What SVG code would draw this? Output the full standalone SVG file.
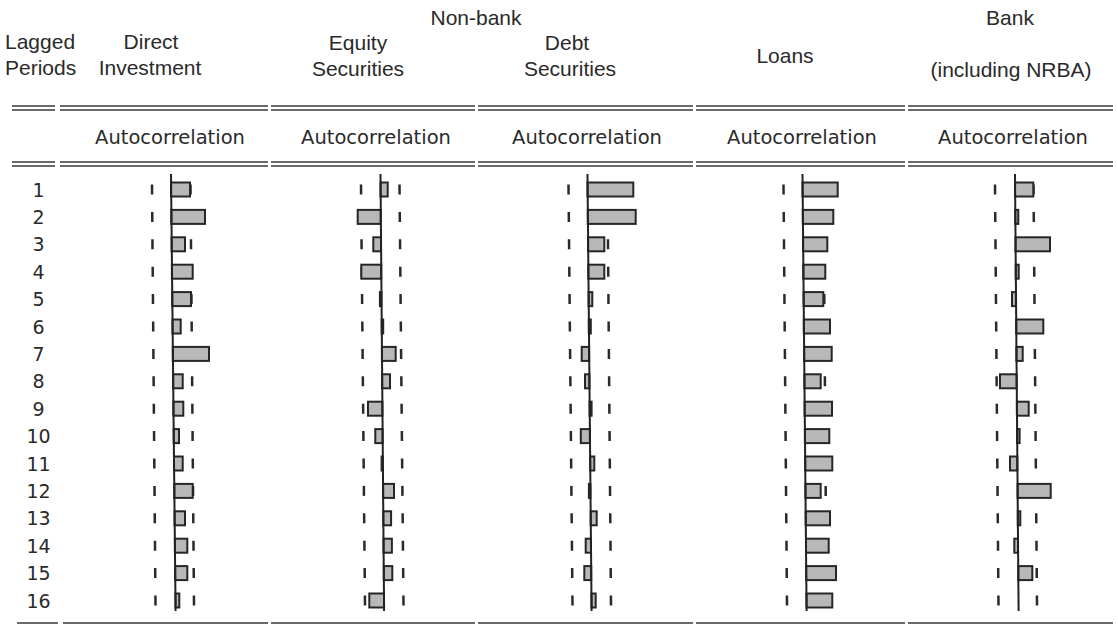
<svg xmlns="http://www.w3.org/2000/svg" width="1118" height="626" viewBox="0 0 1118 626">
<style>
.hd{font-family:"Liberation Sans",Arial,sans-serif;font-size:21px;fill:#2a2a2a}
.ac{font-family:"DejaVu Sans","Liberation Sans",sans-serif;font-size:19.5px;fill:#2a2a2a;text-anchor:middle}
.rn{font-family:"DejaVu Sans","Liberation Sans",sans-serif;font-size:19px;fill:#2a2a2a;text-anchor:middle}
.m{text-anchor:middle}
.rule{stroke:#3a3a3a;stroke-width:1.6;fill:none}
.axis{stroke:#222;stroke-width:2;fill:none}
.dash{stroke:#2a2a2a;stroke-width:2.5;fill:none;stroke-dasharray:10 17.4}
.bar{fill:#b8b8b8;stroke:#262626;stroke-width:2}
</style>

<g id="header">
<text class="hd" x="5" y="49">Lagged</text>
<text class="hd" x="5" y="75">Periods</text>
<text class="hd m" x="151" y="49">Direct</text>
<text class="hd m" x="150" y="75">Investment</text>
<text class="hd m" x="358" y="50">Equity</text>
<text class="hd m" x="358" y="76">Securities</text>
<text class="hd m" x="476" y="25">Non-bank</text>
<text class="hd m" x="567" y="50">Debt</text>
<text class="hd m" x="570" y="76">Securities</text>
<text class="hd m" x="785" y="63">Loans</text>
<text class="hd m" x="1010" y="25">Bank</text>
<text class="hd m" x="1011" y="77">(including NRBA)</text>
<text class="ac" x="170" y="144">Autocorrelation</text>
<text class="ac" x="376" y="144">Autocorrelation</text>
<text class="ac" x="587" y="144">Autocorrelation</text>
<text class="ac" x="802" y="144">Autocorrelation</text>
<text class="ac" x="1013" y="144">Autocorrelation</text>
</g>

<g id="rules">
<path class="rule" d="M12 106H55M60 106H268M271 106H475M478 106H693M696 106H905M908 106H1113"/>
<path class="rule" d="M12 110H55M60 110H268M271 110H475M478 110H693M696 110H905M908 110H1113"/>
<path class="rule" d="M12 162H55M60 162H268M271 162H475M478 162H693M696 162H905M908 162H1113"/>
<path class="rule" d="M12 166H55M60 166H268M271 166H475M478 166H693M696 166H905M908 166H1113"/>
<path class="rule" d="M17 623H58M63 623H268M271 623H475M478 623H693M696 623H905M908 623H1113"/>
</g>

<g id="row-labels">
<text class="rn" x="38.5" y="196.5">1</text>
<text class="rn" x="38.5" y="223.9">2</text>
<text class="rn" x="38.5" y="251.3">3</text>
<text class="rn" x="38.5" y="278.7">4</text>
<text class="rn" x="38.5" y="306.1">5</text>
<text class="rn" x="38.5" y="333.5">6</text>
<text class="rn" x="38.5" y="360.9">7</text>
<text class="rn" x="38.5" y="388.3">8</text>
<text class="rn" x="38.5" y="415.7">9</text>
<text class="rn" x="38.5" y="443.1">10</text>
<text class="rn" x="38.5" y="470.5">11</text>
<text class="rn" x="38.5" y="497.9">12</text>
<text class="rn" x="38.5" y="525.3">13</text>
<text class="rn" x="38.5" y="552.7">14</text>
<text class="rn" x="38.5" y="580.1">15</text>
<text class="rn" x="38.5" y="607.5">16</text>
</g>

<g id="direct-investment">
<path class="dash" d="M152 184.5L155.5 605.5"/>
<path class="dash" d="M190.5 184.5L194 605.5"/>
<rect class="bar" x="171" y="182.5" width="19" height="14"/>
<rect class="bar" x="171.3" y="209.9" width="33.7" height="14"/>
<rect class="bar" x="171.6" y="237.3" width="13.4" height="14"/>
<rect class="bar" x="171.9" y="264.7" width="20.8" height="14"/>
<rect class="bar" x="172.2" y="292.1" width="18.8" height="14"/>
<rect class="bar" x="172.5" y="319.5" width="8.2" height="14"/>
<rect class="bar" x="172.8" y="346.9" width="36.2" height="14"/>
<rect class="bar" x="173.1" y="374.3" width="9.6" height="14"/>
<rect class="bar" x="173.4" y="401.7" width="9.9" height="14"/>
<rect class="bar" x="173.7" y="429.1" width="5.3" height="14"/>
<rect class="bar" x="174" y="456.5" width="8.7" height="14"/>
<rect class="bar" x="174.3" y="483.9" width="18.4" height="14"/>
<rect class="bar" x="174.6" y="511.3" width="10.4" height="14"/>
<rect class="bar" x="174.9" y="538.7" width="12.4" height="14"/>
<rect class="bar" x="175.2" y="566.1" width="12.1" height="14"/>
<rect class="bar" x="175.5" y="593.5" width="3.8" height="14"/>
<path class="axis" d="M171 174L175.6 611"/>
</g>

<g id="equity-securities">
<path class="dash" d="M361 184.5L365 605.5"/>
<path class="dash" d="M399.5 184.5L403.5 605.5"/>
<rect class="bar" x="380.5" y="182.5" width="7.2" height="14"/>
<rect class="bar" x="357.7" y="209.9" width="23" height="14"/>
<rect class="bar" x="373.3" y="237.3" width="7.7" height="14"/>
<rect class="bar" x="361.3" y="264.7" width="19.9" height="14"/>
<rect class="bar" x="379.9" y="292.1" width="1.5" height="14"/>
<rect class="bar" x="381.7" y="319.5" width="1.5" height="14"/>
<rect class="bar" x="381.9" y="346.9" width="13.8" height="14"/>
<rect class="bar" x="382.1" y="374.3" width="7.9" height="14"/>
<rect class="bar" x="368" y="401.7" width="14.4" height="14"/>
<rect class="bar" x="375.3" y="429.1" width="7.3" height="14"/>
<rect class="bar" x="381.6" y="456.5" width="1.2" height="14"/>
<rect class="bar" x="383.1" y="483.9" width="10.9" height="14"/>
<rect class="bar" x="383.3" y="511.3" width="7.8" height="14"/>
<rect class="bar" x="383.5" y="538.7" width="8.4" height="14"/>
<rect class="bar" x="383.8" y="566.1" width="8.5" height="14"/>
<rect class="bar" x="369.3" y="593.5" width="14.7" height="14"/>
<path class="axis" d="M380.5 174L384.1 611"/>
</g>

<g id="debt-securities">
<path class="dash" d="M568.5 184.5L572.5 605.5"/>
<path class="dash" d="M607.5 184.5L611 605.5"/>
<rect class="bar" x="587.5" y="182.5" width="45.8" height="14"/>
<rect class="bar" x="587.8" y="209.9" width="47.9" height="14"/>
<rect class="bar" x="588" y="237.3" width="16.3" height="14"/>
<rect class="bar" x="588.3" y="264.7" width="16" height="14"/>
<rect class="bar" x="588.6" y="292.1" width="3.7" height="14"/>
<rect class="bar" x="588.8" y="319.5" width="2" height="14"/>
<rect class="bar" x="581.7" y="346.9" width="7.4" height="14"/>
<rect class="bar" x="585" y="374.3" width="4.4" height="14"/>
<rect class="bar" x="589.6" y="401.7" width="2" height="14"/>
<rect class="bar" x="580.8" y="429.1" width="9.1" height="14"/>
<rect class="bar" x="590.2" y="456.5" width="4.1" height="14"/>
<rect class="bar" x="588.9" y="483.9" width="1.5" height="14"/>
<rect class="bar" x="590.7" y="511.3" width="6" height="14"/>
<rect class="bar" x="585.7" y="538.7" width="5.3" height="14"/>
<rect class="bar" x="584.3" y="566.1" width="6.9" height="14"/>
<rect class="bar" x="591.5" y="593.5" width="4.2" height="14"/>
<path class="axis" d="M587.5 174L591.6 611"/>
</g>

<g id="loans">
<path class="dash" d="M783.5 184.5L787 605.5"/>
<path class="dash" d="M823.5 184.5L826.5 605.5"/>
<rect class="bar" x="802.5" y="182.5" width="35.2" height="14"/>
<rect class="bar" x="802.8" y="209.9" width="30.5" height="14"/>
<rect class="bar" x="803" y="237.3" width="24.3" height="14"/>
<rect class="bar" x="803.3" y="264.7" width="22" height="14"/>
<rect class="bar" x="803.6" y="292.1" width="19.7" height="14"/>
<rect class="bar" x="803.8" y="319.5" width="26.2" height="14"/>
<rect class="bar" x="804.1" y="346.9" width="27.6" height="14"/>
<rect class="bar" x="804.4" y="374.3" width="16.3" height="14"/>
<rect class="bar" x="804.6" y="401.7" width="27.4" height="14"/>
<rect class="bar" x="804.9" y="429.1" width="24.4" height="14"/>
<rect class="bar" x="805.2" y="456.5" width="27.1" height="14"/>
<rect class="bar" x="805.4" y="483.9" width="15.3" height="14"/>
<rect class="bar" x="805.7" y="511.3" width="24.3" height="14"/>
<rect class="bar" x="806" y="538.7" width="22.7" height="14"/>
<rect class="bar" x="806.2" y="566.1" width="29.8" height="14"/>
<rect class="bar" x="806.5" y="593.5" width="25.8" height="14"/>
<path class="axis" d="M802.5 174L806.6 611"/>
</g>

<g id="bank">
<path class="dash" d="M995 184.5L998.5 605.5"/>
<path class="dash" d="M1033.5 184.5L1037 605.5"/>
<rect class="bar" x="1015" y="182.5" width="18.3" height="14"/>
<rect class="bar" x="1015.2" y="209.9" width="3.1" height="14"/>
<rect class="bar" x="1015.5" y="237.3" width="34.5" height="14"/>
<rect class="bar" x="1015.7" y="264.7" width="3" height="14"/>
<rect class="bar" x="1012" y="292.1" width="3.9" height="14"/>
<rect class="bar" x="1016.2" y="319.5" width="27.1" height="14"/>
<rect class="bar" x="1016.4" y="346.9" width="6.3" height="14"/>
<rect class="bar" x="1000" y="374.3" width="16.6" height="14"/>
<rect class="bar" x="1016.9" y="401.7" width="11.8" height="14"/>
<rect class="bar" x="1017.1" y="429.1" width="2.5" height="14"/>
<rect class="bar" x="1010" y="456.5" width="7.3" height="14"/>
<rect class="bar" x="1017.6" y="483.9" width="33.1" height="14"/>
<rect class="bar" x="1017.8" y="511.3" width="2.5" height="14"/>
<rect class="bar" x="1014.3" y="538.7" width="3.7" height="14"/>
<rect class="bar" x="1018.3" y="566.1" width="14" height="14"/>
<path class="axis" d="M1015 174L1018.6 611"/>
</g>
</svg>
